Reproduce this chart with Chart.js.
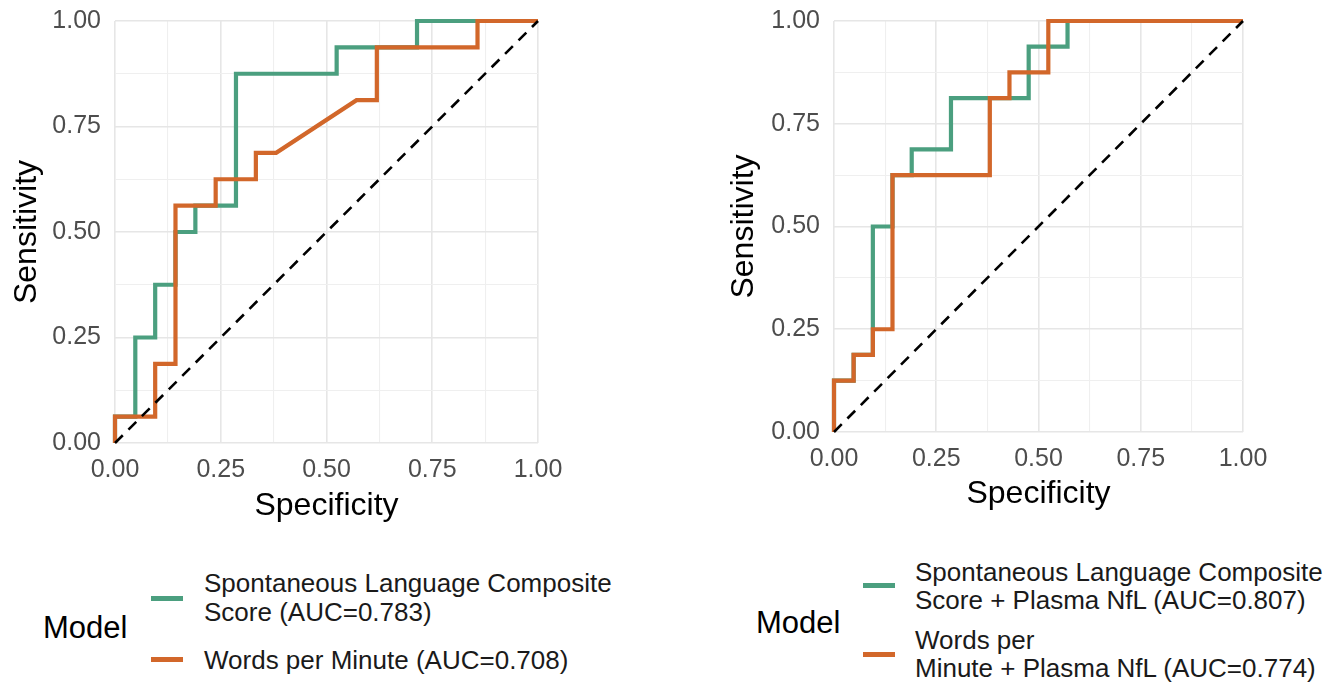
<!DOCTYPE html>
<html>
<head>
<meta charset="utf-8">
<script src="https://cdn.jsdelivr.net/npm/chart.js@4.4.1/dist/chart.umd.min.js"></script>
<style>
  html, body { margin: 0; padding: 0; background: #ffffff; }
  body { width: 1338px; height: 682px; position: relative; overflow: hidden;
         font-family: "Liberation Sans", Arial, Helvetica, sans-serif; }
  .panel { position: absolute; }
  .lg-title { position: absolute; font-size: 31px; color: #000; line-height: 1; white-space: nowrap; }
  .lg-key { position: absolute; width: 32px; height: 5px; }
  .lg-text { position: absolute; font-size: 26px; color: #1a1a1a; line-height: 28px; white-space: nowrap; }
</style>
</head>
<body>
<div class="panel" id="p1" style="left:0px; top:0px; width:570px; height:530px;"><canvas id="c1"></canvas></div>
<div class="panel" id="p2" style="left:720px; top:0px; width:560px; height:520px;"><canvas id="c2"></canvas></div>

<div id="legend1"></div>
<div id="legend2"></div>

<script>
// ---------------- data ----------------
const axisTicks = [0, 0.25, 0.5, 0.75, 1];
const axisTickLabels = ["0.00", "0.25", "0.50", "0.75", "1.00"];
const gridBreaks = [0, 0.125, 0.25, 0.375, 0.5, 0.625, 0.75, 0.875, 1];

const seriesColors = { slc: "#4b9f7f", wpm: "#d2672a" };

// Left panel: Spontaneous Language Composite Score
const leftSlcSpec = [0, 0, 0.048, 0.048, 0.095, 0.095, 0.143, 0.143, 0.190, 0.190, 0.286, 0.286, 0.524, 0.524, 0.714, 0.714, 1];
const leftSlcSens = [0, 0.0625, 0.0625, 0.25, 0.25, 0.375, 0.375, 0.5, 0.5, 0.5625, 0.5625, 0.875, 0.875, 0.9375, 0.9375, 1, 1];
// Left panel: Words per Minute
const leftWpmSpec = [0, 0, 0.095, 0.095, 0.143, 0.143, 0.238, 0.238, 0.333, 0.333, 0.381, 0.571, 0.619, 0.619, 0.857, 0.857, 1];
const leftWpmSens = [0, 0.0625, 0.0625, 0.1875, 0.1875, 0.5625, 0.5625, 0.625, 0.625, 0.6875, 0.6875, 0.8125, 0.8125, 0.9375, 0.9375, 1, 1];

// Right panel: Spontaneous Language Composite Score + Plasma NfL
const rightSlcSpec = [0, 0, 0.048, 0.048, 0.095, 0.095, 0.143, 0.143, 0.190, 0.190, 0.286, 0.286, 0.476, 0.476, 0.571, 0.571, 1];
const rightSlcSens = [0, 0.125, 0.125, 0.1875, 0.1875, 0.5, 0.5, 0.625, 0.625, 0.6875, 0.6875, 0.8125, 0.8125, 0.9375, 0.9375, 1, 1];
// Right panel: Words per Minute + Plasma NfL
const rightWpmSpec = [0, 0, 0.048, 0.048, 0.095, 0.095, 0.143, 0.143, 0.381, 0.381, 0.429, 0.429, 0.524, 0.524, 1];
const rightWpmSens = [0, 0.125, 0.125, 0.1875, 0.1875, 0.25, 0.25, 0.625, 0.625, 0.8125, 0.8125, 0.875, 0.875, 1, 1];

// Chance line
const chanceSpec = [0, 1];
const chanceSens = [0, 1];

const leftLabels = ["Spontaneous Language Composite\nScore (AUC=0.783)", "Words per Minute (AUC=0.708)"];
const rightLabels = ["Spontaneous Language Composite\nScore + Plasma NfL (AUC=0.807)", "Words per\nMinute + Plasma NfL (AUC=0.774)"];
const legendTitle = "Model";
const xTitle = "Specificity";
const yTitle = "Sensitivity";

// ---------------- helpers ----------------
const FONT = '"Liberation Sans", Arial, Helvetica, sans-serif';
function pts(xs, ys) { return xs.map((x, i) => ({ x: x, y: ys[i] })); }
function isMajor(v) { return axisTicks.some(t => Math.abs(t - v) < 1e-6); }
function gridColor(ctx) { return isMajor(ctx.tick ? ctx.tick.value : 0) ? "#e6e6e6" : "#efefef"; }
function gridWidth(ctx) { return isMajor(ctx.tick ? ctx.tick.value : 0) ? 1.6 : 1.1; }
function tickLabel(value) {
  const i = axisTicks.findIndex(t => Math.abs(t - value) < 1e-6);
  return i >= 0 ? axisTickLabels[i] : "";
}

function makeChart(canvasId, slcX, slcY, wpmX, wpmY, geom) {
  const lineBase = { pointRadius: 0, pointHoverRadius: 0, tension: 0, fill: false, clip: false,
                     borderCapStyle: "butt", borderJoinStyle: "miter" };
  return new Chart(document.getElementById(canvasId), {
    type: "line",
    data: {
      datasets: [
        Object.assign({}, lineBase, { label: "chance", data: pts(chanceSpec, chanceSens), borderColor: "#000000",
          borderWidth: 2.6, borderDash: [11, 8] }),
        Object.assign({}, lineBase, { label: "wpm", data: pts(wpmX, wpmY), borderColor: seriesColors.wpm, borderWidth: 4.2 }),
        Object.assign({}, lineBase, { label: "slc", data: pts(slcX, slcY), borderColor: seriesColors.slc, borderWidth: 4.2 })
      ]
    },
    options: {
      responsive: true, maintainAspectRatio: false, animation: false,
      layout: { padding: { top: geom.top, right: geom.right, left: 0, bottom: 0 } },
      plugins: { legend: { display: false }, tooltip: { enabled: false } },
      scales: {
        x: {
          type: "linear", min: 0, max: 1,
          afterBuildTicks: s => { s.ticks = gridBreaks.map(v => ({ value: v })); },
          afterFit: s => { s.height = geom.xh; s.paddingLeft = 0; s.paddingRight = 0; },
          grid: { color: gridColor, lineWidth: gridWidth, drawTicks: false },
          border: { display: false },
          ticks: { autoSkip: false, maxRotation: 0, padding: 12, color: "#4d4d4d",
                   font: { family: FONT, size: 25 }, callback: tickLabel },
          title: { display: true, text: xTitle, color: "#000000", font: { family: FONT, size: 32 },
                   padding: { top: 0, bottom: geom.xtp } }
        },
        y: {
          type: "linear", min: 0, max: 1,
          afterBuildTicks: s => { s.ticks = gridBreaks.map(v => ({ value: v })); },
          afterFit: s => { s.width = geom.yw; s.paddingTop = 0; s.paddingBottom = 0; },
          grid: { color: gridColor, lineWidth: gridWidth, drawTicks: false },
          border: { display: false },
          ticks: { autoSkip: false, padding: 14, color: "#4d4d4d",
                   font: { family: FONT, size: 25 }, callback: tickLabel },
          title: { display: true, text: yTitle, color: "#000000", font: { family: FONT, size: 32 },
                   padding: { top: geom.ytp, bottom: 0 } }
        }
      }
    }
  });
}

makeChart("c1", leftSlcSpec, leftSlcSens, leftWpmSpec, leftWpmSens,
          { top: 21, right: 32, yw: 115, xh: 87, xtp: 5, ytp: 8 });
makeChart("c2", rightSlcSpec, rightSlcSens, rightWpmSpec, rightWpmSens,
          { top: 21, right: 37, yw: 114, xh: 88, xtp: 7, ytp: 5 });

// ---------------- legends (HTML text) ----------------
function buildLegend(id, labels, g) {
  const el = document.getElementById(id);
  let html = '<div class="lg-title" style="left:' + g.titleX + 'px; top:' + g.titleY + 'px;">' + legendTitle + '</div>';
  const cols = [seriesColors.slc, seriesColors.wpm];
  labels.forEach((lab, i) => {
    html += '<div class="lg-key" style="left:' + g.keyX + 'px; top:' + (g.keyY[i] - 2.5) + 'px; background:' + cols[i] + ';"></div>';
    const lines = lab.split("\n");
    lines.forEach((ln, j) => {
      html += '<div class="lg-text" style="left:' + g.textX + 'px; top:' + (g.textY[i] + j * g.lh - 14) + 'px;">' + ln + '</div>';
    });
  });
  el.innerHTML = html;
}
buildLegend("legend1", leftLabels, { titleX: 43, titleY: 612, keyX: 151, keyY: [598, 659], textX: 204, textY: [583, 660], lh: 29 });
buildLegend("legend2", rightLabels, { titleX: 756, titleY: 607, keyX: 863, keyY: [585, 654], textX: 915, textY: [572, 640], lh: 28 });
</script>
</body>
</html>
